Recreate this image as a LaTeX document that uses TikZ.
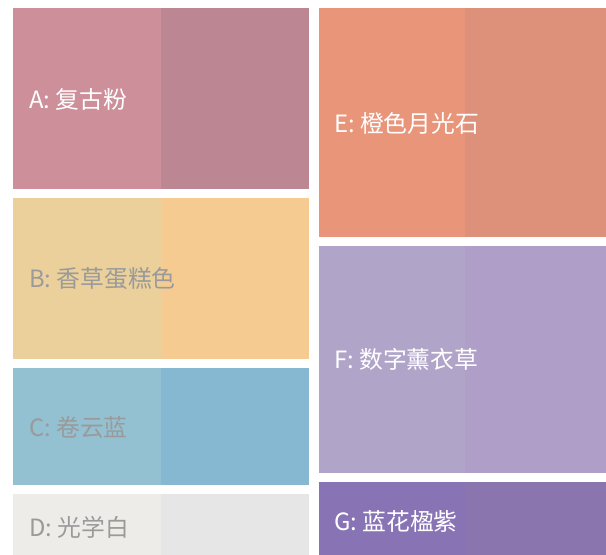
\documentclass[tikz,border=0pt]{standalone}
\usepackage{fontspec}
\setmainfont{Noto Sans CJK SC}
\usepackage{tikz}

\definecolor{retroL}{HTML}{CD8F99}
\definecolor{retroR}{HTML}{BC8692}
\definecolor{vanillaL}{HTML}{EBD09C}
\definecolor{vanillaR}{HTML}{F5CB92}
\definecolor{cirrusL}{HTML}{93C1D2}
\definecolor{cirrusR}{HTML}{86B8D1}
\definecolor{opticL}{HTML}{EDECE9}
\definecolor{opticR}{HTML}{E6E6E6}
\definecolor{moonL}{HTML}{E8957A}
\definecolor{moonR}{HTML}{DD917A}
\definecolor{lavL}{HTML}{B0A4C8}
\definecolor{lavR}{HTML}{AF9EC8}
\definecolor{indigoL}{HTML}{8873B5}
\definecolor{indigoR}{HTML}{8A75AE}
\definecolor{labgray}{HTML}{9A9A9A}

\tikzset{lab/.style = {anchor = west, inner sep = 0, font = \fontsize{23.8}{28}\selectfont},
         light/.style = {lab, text = white},
         dark/.style = {lab, text = labgray}}

\begin{document}
\begin{tikzpicture}[x = 1pt, y = -1pt]
    \fill [white] (0, 0) rectangle (606, 555);
    \useasboundingbox (0, 0) rectangle (606, 555);

    % left column
    \fill [retroL] (13, 8) rectangle (161, 189);
    \fill [retroR] (161, 8) rectangle (309, 189);
    \fill [vanillaL] (13, 198) rectangle (161, 359);
    \fill [vanillaR] (161, 198) rectangle (309, 359);
    \fill [cirrusL] (13, 368) rectangle (161, 485);
    \fill [cirrusR] (161, 368) rectangle (309, 485);
    \fill [opticL] (13, 494) rectangle (161, 555);
    \fill [opticR] (161, 494) rectangle (309, 555);

    % right column
    \fill [moonL] (319, 8) rectangle (465, 237);
    \fill [moonR] (465, 8) rectangle (606, 237);
    \fill [lavL] (319, 246) rectangle (465, 473);
    \fill [lavR] (465, 246) rectangle (606, 473);
    \fill [indigoL] (319, 482) rectangle (465, 555);
    \fill [indigoR] (465, 482) rectangle (606, 555);

    \node [light] (labA) at (29, 99) {A: 复古粉};
    \node [dark] (labB) at (29, 279) {B: 香草蛋糕色};
    \node [dark] (labC) at (29, 427) {C: 卷云蓝};
    \node [dark] (labD) at (29, 527) {D: 光学白};
    \node [light] (labE) at (334, 123) {E: 橙色月光石};
    \node [light] (labF) at (334, 359) {F: 数字薰衣草};
    \node [light] (labG) at (334, 521) {G: 蓝花楹紫};
  \end{tikzpicture}
\end{document}
